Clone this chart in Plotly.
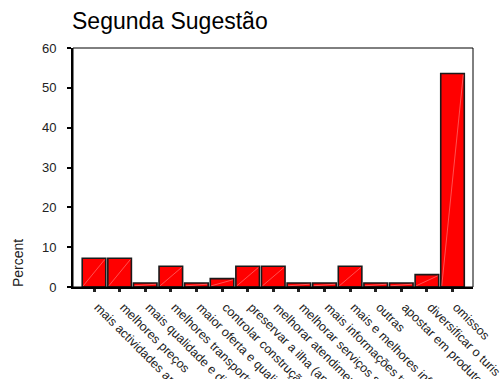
import plotly.graph_objects as go

# SPSS-style frequency chart, percent of answers
categories = [
    "mais actividades ani",
    "melhores preços",
    "mais qualidade e div",
    "melhores transportes",
    "maior oferta e quali",
    "controlar construção",
    "preservar a ilha (am",
    "melhorar atendimento",
    "melhorar serviços sa",
    "mais informações tur",
    "mais e melhores infr",
    "outras",
    "apostar em produtos",
    "diversificar o turis",
    "omissos",
]
percent = [7.2, 7.2, 1.0, 5.2, 1.0, 2.1, 5.2, 5.2, 1.0, 1.0, 5.2, 1.0, 1.0, 3.1, 53.6]
y_ticks = [0, 10, 20, 30, 40, 50, 60]

FONT = "Liberation Sans, Arial, sans-serif"

idx = list(range(len(categories)))

fig = go.Figure()

fig.add_trace(go.Bar(
    x = idx,
    y = percent,
    width = 0.92,
    marker = dict(color = "#ff0000", line = dict(width = 1.6, color = "#1a1a1a")),
    hoverinfo = "skip",
))

# faint diagonal shading line inside each bar
diag_x, diag_y = [], []
for i, v in zip(idx, percent):
    diag_x += [i - 0.42, i + 0.42, None]
    diag_y += [0.3, v - 0.3, None]
fig.add_trace(go.Scatter(
    x = diag_x, y = diag_y, mode = "lines",
    line = dict(color = "rgba(255,170,170,0.8)", width = 0.6),
    hoverinfo = "skip",
))

fig.update_layout(
    width = 504,
    height = 379,
    margin = dict(l = 73, r = 31, t = 48, b = 92),
    paper_bgcolor = "white",
    plot_bgcolor = "white",
    showlegend = False,
    font = dict(family = FONT, color = "black", size = 12),
    title = dict(
        text = "Segunda Sugestão",
        x = 72 / 504, xanchor = "left", xref = "container",
        y = 1 - 29 / 379, yanchor = "bottom", yref = "container",
        pad = dict(l = 0, r = 0, t = 0, b = 0),
        font = dict(size = 23, family = FONT, color = "black"),
    ),
    xaxis = dict(
        range = [-0.82, 14.8],
        tickmode = "array",
        tickvals = idx,
        ticktext = categories,
        tickangle = 45,
        ticks = "outside",
        ticklen = 3,
        tickwidth = 3,
        tickcolor = "#222",
        ticklabelshift = 4,
        ticklabelstandoff = 3,
        showgrid = False,
        zeroline = False,
        showline = True,
        linewidth = 2,
        linecolor = "black",
        automargin = False,
        tickfont = dict(size = 12.5, color = "#222"),
    ),
    yaxis = dict(
        range = [0, 60],
        tickvals = y_ticks,
        ticks = "outside",
        ticklen = 4,
        tickwidth = 2,
        tickcolor = "black",
        ticklabelstandoff = 8,
        showgrid = False,
        zeroline = False,
        showline = True,
        linewidth = 2,
        linecolor = "black",
        automargin = False,
        tickfont = dict(size = 13, color = "#222"),
    ),
    shapes = [dict(
        type = "rect", xref = "paper", yref = "paper",
        x0 = 0, x1 = 1, y0 = 0, y1 = 1,
        line = dict(color = "black", width = 1),
    )],
    annotations = [dict(
        text = "Percent",
        xref = "paper", yref = "paper",
        x = -55 / 400, y = 0.0,
        xanchor = "center", yanchor = "bottom",
        yshift = -2,
        textangle = -90,
        showarrow = False,
        font = dict(size = 14, family = FONT, color = "#222"),
    )],
)

# drop the browser's default body margin so the figure sits at the page corner
fig.write_html(
    "out.html",
    config = {"displayModeBar": False},
    post_script = "document.body.style.margin = '0';",
)
